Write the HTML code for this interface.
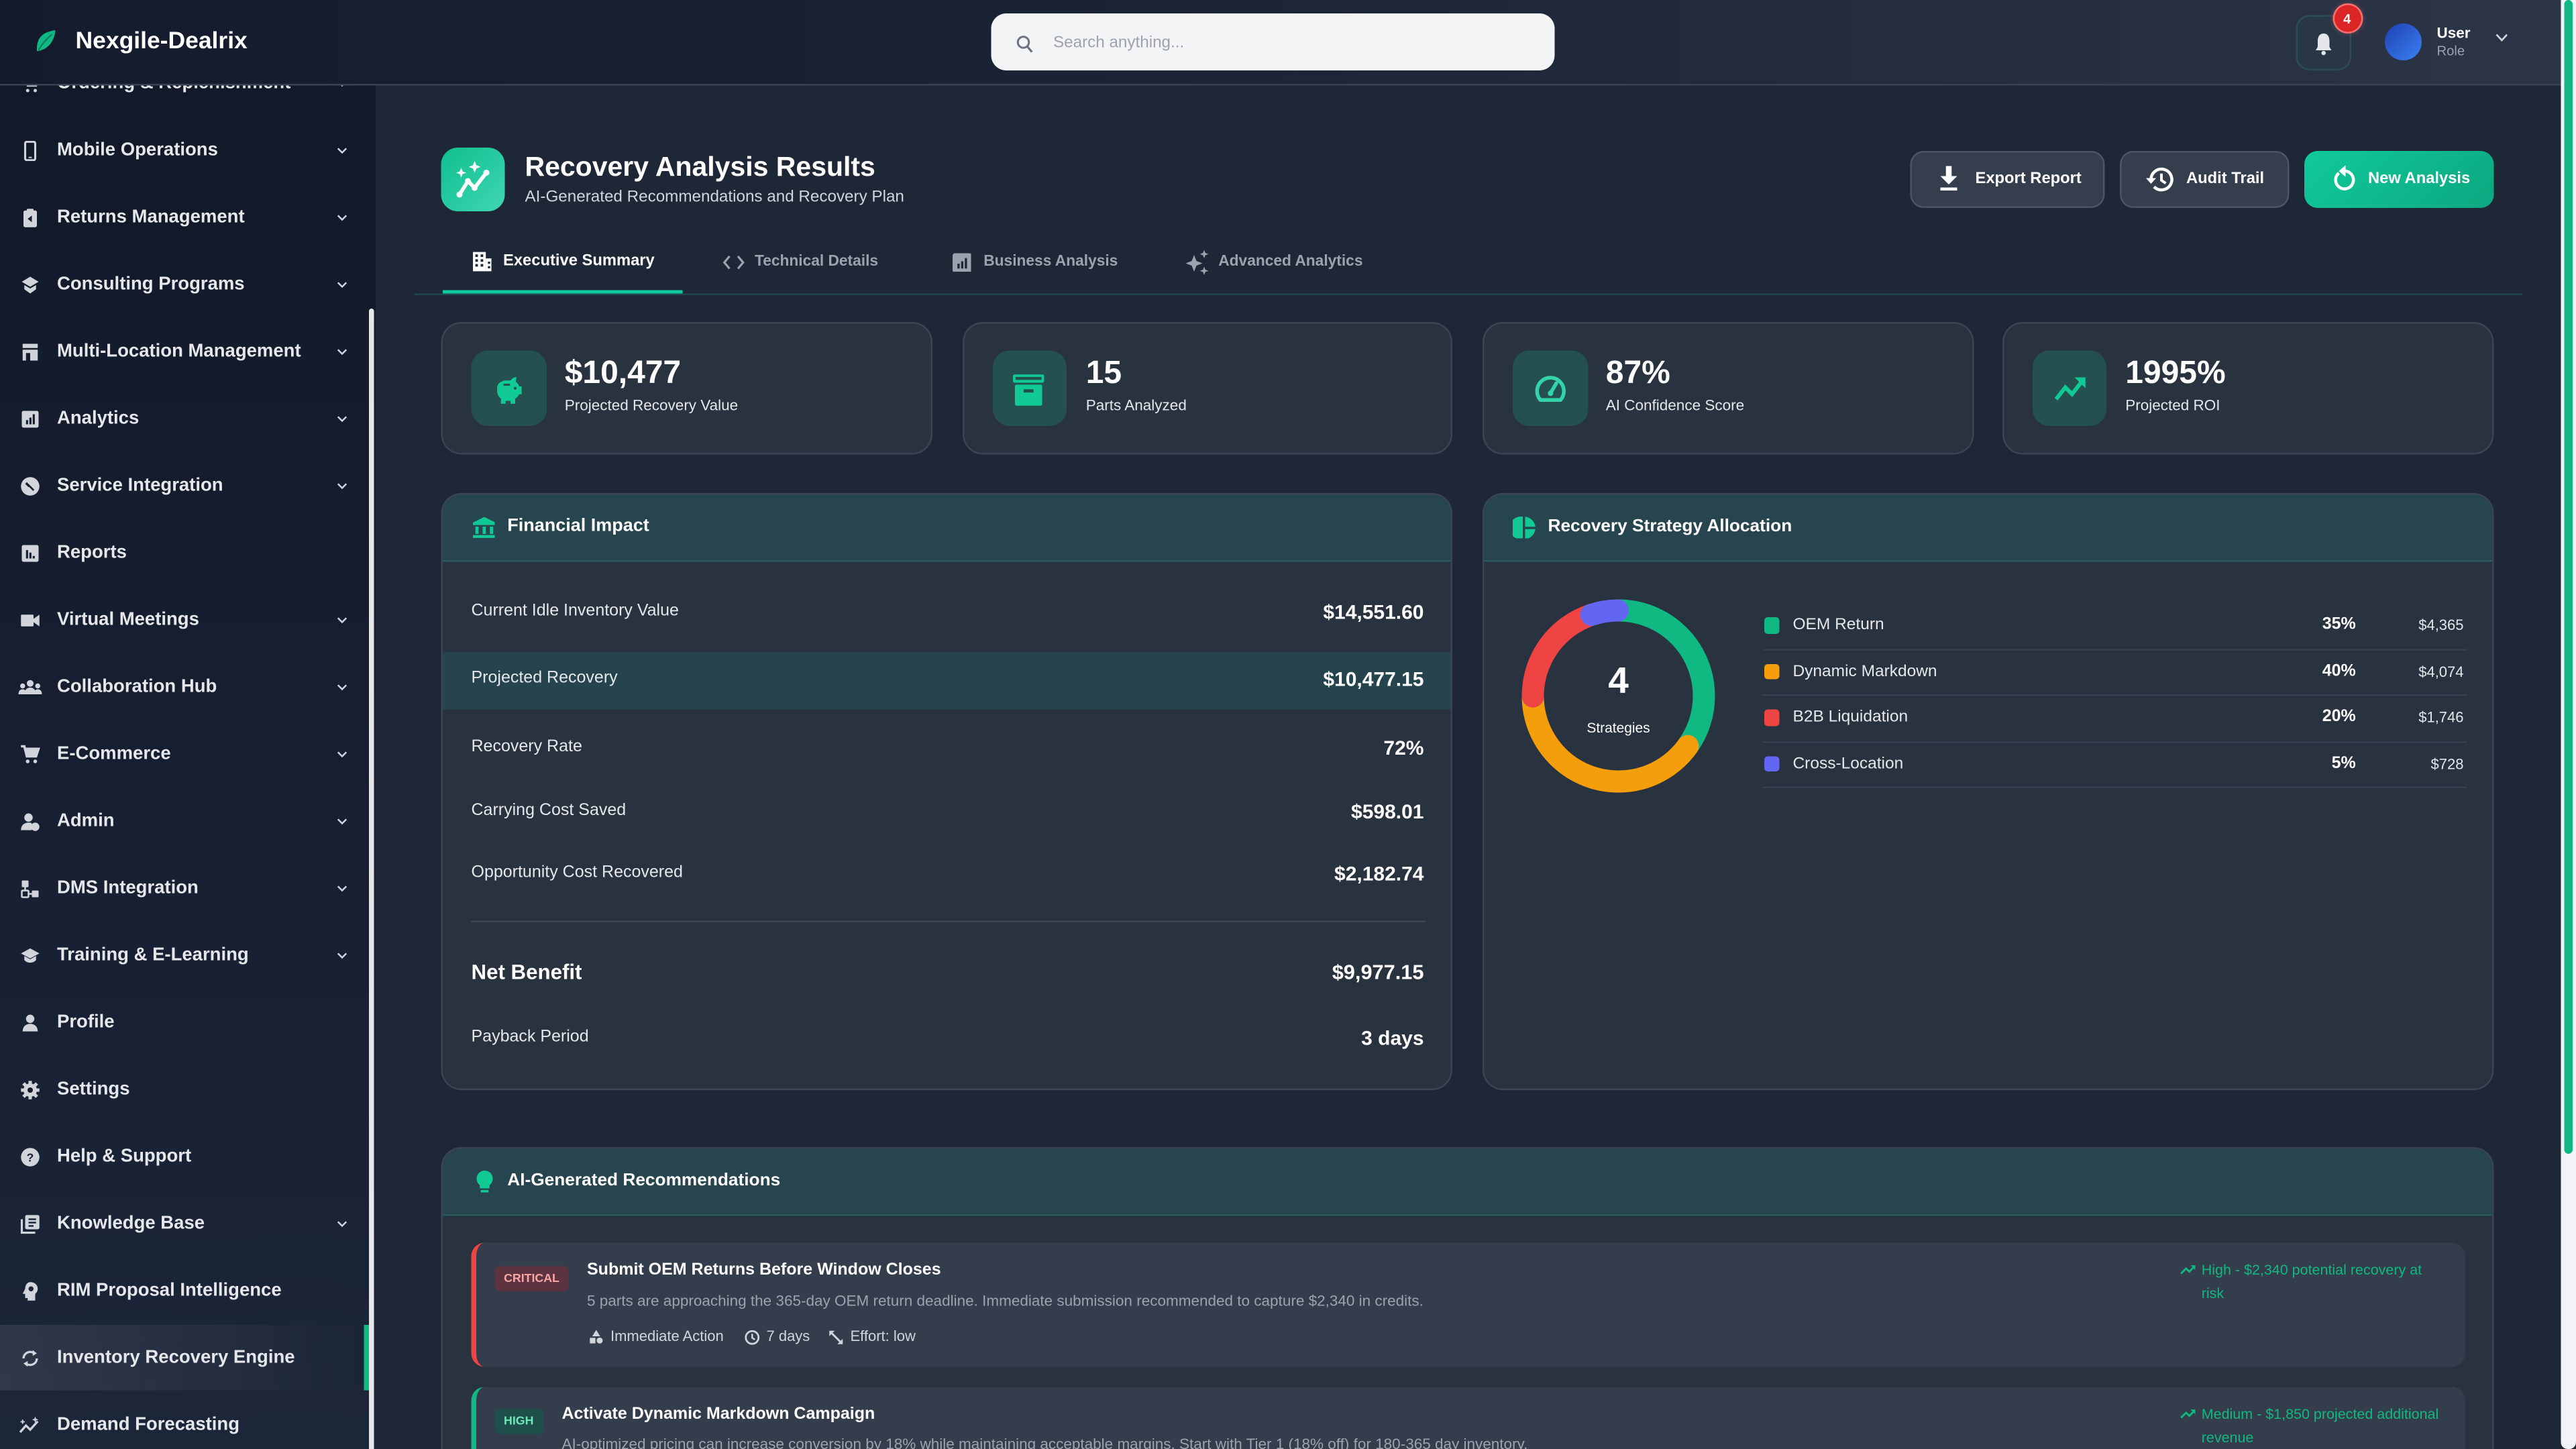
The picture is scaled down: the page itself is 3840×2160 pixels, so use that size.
<!DOCTYPE html>
<html><head><meta charset="utf-8">
<style>
html,body{margin:0;padding:0;width:3840px;height:2160px;overflow:hidden;background:#1e2736;}
#r{position:absolute;left:0;top:0;width:1536px;height:864px;transform:scale(2.5);transform-origin:0 0;font-family:"Liberation Sans",Arial,sans-serif;color:#fff;overflow:hidden;background:#1e2736;}
.a{position:absolute;}
.t{position:absolute;line-height:1;white-space:nowrap;transform:translateY(-50%);}
.sb{font-size:11px;font-weight:700;color:#e5e7eb;left:34px;}
.card{position:absolute;background:#29323f;border:1px solid #3a4453;border-radius:12px;box-sizing:border-box;overflow:hidden;}
.ch{position:absolute;left:0;top:0;right:0;height:39px;background:#26454e;border-bottom:1px solid #2b5a5a;}
.kicon{position:absolute;top:209px;width:44.5px;height:45px;border-radius:10px;background:#24504f;}
.kv{font-size:19.2px;font-weight:700;color:#fff;}
.kl{font-size:9px;color:#e5e7eb;}
.fl{font-size:10px;color:#e5e7eb;left:281px;}
.fv{font-size:12px;font-weight:700;color:#fff;right:687px;}
.lg{font-size:9.8px;color:#e5e7eb;left:1069px;}
.lp{font-size:10px;font-weight:700;color:#fff;right:131.3px;}
.la{font-size:8.8px;color:#e5e7eb;right:67px;}
.sq{position:absolute;left:1051.6px;width:9.5px;height:9.5px;border-radius:2px;}
.sep{position:absolute;left:1051px;width:419.5px;height:1px;background:#364050;}
.btn{position:absolute;top:89.7px;height:34.3px;border-radius:8px;box-sizing:border-box;}
.bt{font-size:9.5px;font-weight:700;color:#fff;top:107.4px;}
.tab{font-size:9.1px;font-weight:700;color:#9ca3af;top:156px;}
.meta{font-size:8.8px;color:#d1d5db;}
</style></head><body>
<div id="r">

<!-- sidebar -->
<div class="a" style="left:0;top:0;width:224px;height:864px;background:linear-gradient(180deg,#111827 0%,#151d2f 40%,#1c2639 100%);"></div>

<!-- active item -->
<div class="a" style="left:0;top:789.7px;width:217px;height:39.7px;background:linear-gradient(90deg,rgba(255,255,255,0.09),rgba(255,255,255,0.03) 70%,rgba(255,255,255,0));"></div>
<div class="a" style="left:217px;top:789.7px;width:3px;height:39.7px;background:#10b981;"></div>

<!-- sidebar scrollbar thumb -->
<div class="a" style="left:220px;top:183.6px;width:3.4px;height:680.4px;background:#e5e7eb;border-radius:2px 2px 0 0;"></div>

<!-- sidebar items -->
<svg class="a" style="left:12px;top:43.8px" width="12" height="12" viewBox="0 0 24 24"><path d="M2 3h4l3 11h10l3-8H7" fill="none" stroke="#d1d5db" stroke-width="2.5"/><circle cx="9" cy="20" r="2" fill="#d1d5db"/><circle cx="18" cy="20" r="2" fill="#d1d5db"/></svg>
<div class="t sb" style="top:49.8px">Ordering &amp; Replenishment</div>

<svg class="a" style="left:12px;top:83.8px" width="12" height="12" viewBox="0 0 24 24"><rect x="6" y="1" width="12" height="22" rx="2" fill="none" stroke="#d1d5db" stroke-width="2.5"/><rect x="10" y="19" width="4" height="1.5" fill="#d1d5db"/></svg>
<div class="t sb" style="top:89.8px">Mobile Operations</div>

<svg class="a" style="left:12px;top:123.8px" width="12" height="12" viewBox="0 0 24 24"><rect x="4" y="3" width="16" height="20" rx="2" fill="#d1d5db"/><rect x="8" y="1" width="8" height="4" rx="1" fill="#d1d5db"/><path d="M14 9l-5 4 5 4z" fill="#161e30"/></svg>
<div class="t sb" style="top:129.8px">Returns Management</div>

<svg class="a" style="left:12px;top:163.8px" width="12" height="12" viewBox="0 0 24 24"><path d="M12 2l10 6-10 6L2 8z" fill="#d1d5db"/><path d="M5 12v5l7 5 7-5v-5l-7 4z" fill="#d1d5db"/></svg>
<div class="t sb" style="top:169.8px">Consulting Programs</div>

<svg class="a" style="left:12px;top:203.8px" width="12" height="12" viewBox="0 0 24 24"><rect x="3" y="2" width="18" height="5" fill="#d1d5db"/><rect x="3" y="9" width="18" height="13" fill="#d1d5db"/><rect x="7" y="13" width="5" height="9" fill="#161e30"/></svg>
<div class="t sb" style="top:209.8px">Multi-Location Management</div>

<svg class="a" style="left:12px;top:243.8px" width="12" height="12" viewBox="0 0 24 24"><rect x="2" y="2" width="20" height="20" rx="2" fill="#d1d5db"/><rect x="7" y="13" width="2.5" height="5" fill="#161e30"/><rect x="11" y="10" width="2.5" height="8" fill="#161e30"/><rect x="15" y="6" width="2.5" height="12" fill="#161e30"/></svg>
<div class="t sb" style="top:249.8px">Analytics</div>

<svg class="a" style="left:12px;top:283.8px" width="12" height="12" viewBox="0 0 24 24"><circle cx="12" cy="12" r="11" fill="#d1d5db"/><path d="M8 7l4 4-2 2-4-4zM12 11l5 5-1.5 1.5-5-5z" fill="#161e30"/></svg>
<div class="t sb" style="top:289.8px">Service Integration</div>

<svg class="a" style="left:12px;top:323.8px" width="12" height="12" viewBox="0 0 24 24"><rect x="2" y="2" width="20" height="20" rx="2" fill="#d1d5db"/><rect x="7" y="8" width="2.5" height="10" fill="#161e30"/><rect x="11" y="11" width="2.5" height="7" fill="#161e30"/><rect x="15" y="15" width="2.5" height="3" fill="#161e30"/></svg>
<div class="t sb" style="top:329.8px">Reports</div>

<svg class="a" style="left:12px;top:363.8px" width="12" height="12" viewBox="0 0 24 24"><rect x="1" y="5" width="15" height="14" rx="1" fill="#d1d5db"/><path d="M16 10l7-5v14l-7-5z" fill="#d1d5db"/></svg>
<div class="t sb" style="top:369.8px">Virtual Meetings</div>

<svg class="a" style="left:11px;top:403.8px" width="14" height="12" viewBox="0 0 28 24"><circle cx="14" cy="7" r="4" fill="#d1d5db"/><circle cx="5" cy="10" r="3" fill="#d1d5db"/><circle cx="23" cy="10" r="3" fill="#d1d5db"/><path d="M7 20c0-5 3-8 7-8s7 3 7 8z" fill="#d1d5db"/><path d="M0 20c0-4 2-6 5-6s4 2 4 6zM19 20c0-4 1-6 4-6s5 2 5 6z" fill="#d1d5db"/></svg>
<div class="t sb" style="top:409.8px">Collaboration Hub</div>

<svg class="a" style="left:12px;top:443.8px" width="12" height="12" viewBox="0 0 24 24"><path d="M1 2h4l3 12h11l3-9H7" fill="none" stroke="#d1d5db" stroke-width="2.8"/><path d="M7 5h15l-3 9H9z" fill="#d1d5db"/><circle cx="9" cy="20" r="2.2" fill="#d1d5db"/><circle cx="18" cy="20" r="2.2" fill="#d1d5db"/></svg>
<div class="t sb" style="top:449.8px">E-Commerce</div>

<svg class="a" style="left:12px;top:483.8px" width="12" height="12" viewBox="0 0 24 24"><circle cx="10" cy="7" r="5" fill="#d1d5db"/><path d="M1 22c0-6 4-9 9-9 2 0 3 0 4 1v8z" fill="#d1d5db"/><circle cx="18" cy="18" r="5" fill="#d1d5db"/></svg>
<div class="t sb" style="top:489.8px">Admin</div>

<svg class="a" style="left:12px;top:523.8px" width="12" height="12" viewBox="0 0 24 24"><rect x="2" y="2" width="8" height="8" rx="1" fill="#d1d5db"/><rect x="14" y="14" width="8" height="8" rx="1" fill="#d1d5db"/><rect x="2" y="14" width="8" height="8" rx="1" fill="none" stroke="#d1d5db" stroke-width="2"/><path d="M6 10v4M10 18h4" stroke="#d1d5db" stroke-width="2"/></svg>
<div class="t sb" style="top:529.8px">DMS Integration</div>

<svg class="a" style="left:12px;top:563.8px" width="12" height="12" viewBox="0 0 24 24"><path d="M12 3l11 6-11 6L1 9z" fill="#d1d5db"/><path d="M5 12v5c2 2 4 3 7 3s5-1 7-3v-5l-7 4z" fill="#d1d5db"/></svg>
<div class="t sb" style="top:569.8px">Training &amp; E-Learning</div>

<svg class="a" style="left:12px;top:603.8px" width="12" height="12" viewBox="0 0 24 24"><circle cx="12" cy="7" r="5" fill="#d1d5db"/><path d="M3 22c0-6 4-9 9-9s9 3 9 9z" fill="#d1d5db"/></svg>
<div class="t sb" style="top:609.8px">Profile</div>

<svg class="a" style="left:12px;top:643.8px" width="12" height="12" viewBox="0 0 24 24"><circle cx="12" cy="12" r="8" fill="#d1d5db"/><g stroke="#d1d5db" stroke-width="4"><path d="M12 1v22M1 12h22M4 4l16 16M20 4L4 20"/></g><circle cx="12" cy="12" r="3.2" fill="#161e30"/></svg>
<div class="t sb" style="top:649.8px">Settings</div>

<svg class="a" style="left:12px;top:683.8px" width="12" height="12" viewBox="0 0 24 24"><circle cx="12" cy="12" r="11" fill="#d1d5db"/><text x="12" y="17" text-anchor="middle" font-size="14" font-weight="700" fill="#161e30" font-family="Liberation Sans">?</text></svg>
<div class="t sb" style="top:689.8px">Help &amp; Support</div>

<svg class="a" style="left:12px;top:723.8px" width="12" height="12" viewBox="0 0 24 24"><rect x="6" y="1" width="17" height="17" rx="2" fill="#d1d5db"/><path d="M2 6v16h16" fill="none" stroke="#d1d5db" stroke-width="2.5"/><path d="M10 6h9M10 10h9M10 14h6" stroke="#1c2639" stroke-width="2"/></svg>
<div class="t sb" style="top:729.8px">Knowledge Base</div>

<svg class="a" style="left:12px;top:763.8px" width="12" height="12" viewBox="0 0 24 24"><path d="M12 1c5 0 9 3 9 8 0 3-2 5-3 6v8h-9v-3H6v-5H3l3-6c0-5 3-8 6-8z" fill="#d1d5db"/><circle cx="13" cy="9" r="3" fill="#1c2639"/></svg>
<div class="t sb" style="top:769.8px">RIM Proposal Intelligence</div>

<svg class="a" style="left:12px;top:803.8px" width="12" height="12" viewBox="0 0 24 24"><path d="M4 12a8 8 0 0 1 13-6" fill="none" stroke="#d1d5db" stroke-width="2.6"/><path d="M20 12a8 8 0 0 1-13 6" fill="none" stroke="#d1d5db" stroke-width="2.6"/><path d="M15 2l5 4-5 3z" fill="#d1d5db"/><path d="M9 22l-5-4 5-3z" fill="#d1d5db"/></svg>
<div class="t sb" style="top:809.8px">Inventory Recovery Engine</div>

<svg class="a" style="left:11px;top:843.8px" width="14" height="12" viewBox="0 0 28 24"><path d="M2 20l7-8 5 5 9-10" fill="none" stroke="#d1d5db" stroke-width="2.6"/><path d="M20 1l1 3 3 1-3 1-1 3-1-3-3-1 3-1z" fill="#d1d5db"/><path d="M5 5v5M2.5 7.5h5" stroke="#d1d5db" stroke-width="1.5"/></svg>
<div class="t sb" style="top:849.8px">Demand Forecasting</div>

<!-- chevrons -->
<svg class="a" style="left:200.5px;top:47.8px" width="6" height="4" viewBox="0 0 6 4"><path d="M.5.5L3 3 5.5.5" fill="none" stroke="#cbd5e1" stroke-width="1"/></svg>
<svg class="a" style="left:200.5px;top:87.8px" width="6" height="4" viewBox="0 0 6 4"><path d="M.5.5L3 3 5.5.5" fill="none" stroke="#cbd5e1" stroke-width="1"/></svg>
<svg class="a" style="left:200.5px;top:127.8px" width="6" height="4" viewBox="0 0 6 4"><path d="M.5.5L3 3 5.5.5" fill="none" stroke="#cbd5e1" stroke-width="1"/></svg>
<svg class="a" style="left:200.5px;top:167.8px" width="6" height="4" viewBox="0 0 6 4"><path d="M.5.5L3 3 5.5.5" fill="none" stroke="#cbd5e1" stroke-width="1"/></svg>
<svg class="a" style="left:200.5px;top:207.8px" width="6" height="4" viewBox="0 0 6 4"><path d="M.5.5L3 3 5.5.5" fill="none" stroke="#cbd5e1" stroke-width="1"/></svg>
<svg class="a" style="left:200.5px;top:247.8px" width="6" height="4" viewBox="0 0 6 4"><path d="M.5.5L3 3 5.5.5" fill="none" stroke="#cbd5e1" stroke-width="1"/></svg>
<svg class="a" style="left:200.5px;top:287.8px" width="6" height="4" viewBox="0 0 6 4"><path d="M.5.5L3 3 5.5.5" fill="none" stroke="#cbd5e1" stroke-width="1"/></svg>
<svg class="a" style="left:200.5px;top:367.8px" width="6" height="4" viewBox="0 0 6 4"><path d="M.5.5L3 3 5.5.5" fill="none" stroke="#cbd5e1" stroke-width="1"/></svg>
<svg class="a" style="left:200.5px;top:407.8px" width="6" height="4" viewBox="0 0 6 4"><path d="M.5.5L3 3 5.5.5" fill="none" stroke="#cbd5e1" stroke-width="1"/></svg>
<svg class="a" style="left:200.5px;top:447.8px" width="6" height="4" viewBox="0 0 6 4"><path d="M.5.5L3 3 5.5.5" fill="none" stroke="#cbd5e1" stroke-width="1"/></svg>
<svg class="a" style="left:200.5px;top:487.8px" width="6" height="4" viewBox="0 0 6 4"><path d="M.5.5L3 3 5.5.5" fill="none" stroke="#cbd5e1" stroke-width="1"/></svg>
<svg class="a" style="left:200.5px;top:527.8px" width="6" height="4" viewBox="0 0 6 4"><path d="M.5.5L3 3 5.5.5" fill="none" stroke="#cbd5e1" stroke-width="1"/></svg>
<svg class="a" style="left:200.5px;top:567.8px" width="6" height="4" viewBox="0 0 6 4"><path d="M.5.5L3 3 5.5.5" fill="none" stroke="#cbd5e1" stroke-width="1"/></svg>
<svg class="a" style="left:200.5px;top:727.8px" width="6" height="4" viewBox="0 0 6 4"><path d="M.5.5L3 3 5.5.5" fill="none" stroke="#cbd5e1" stroke-width="1"/></svg>

<!-- header -->
<div class="a" style="left:0;top:0;width:1527px;height:50.5px;background:linear-gradient(90deg,#141b2d 0%,#1b2336 45%,#2c3548 100%);border-bottom:1px solid #394252;box-sizing:border-box;"></div>
<svg class="a" style="left:19.6px;top:18px" width="14" height="13" viewBox="0 0 14 13"><path d="M13 0C6 1 1.5 4 2 12.5 8 12 12.5 7 13 0z" fill="#10b981"/><path d="M3 12C5 8 8 5 11 2.5" stroke="#0b7a57" stroke-width=".8" fill="none"/></svg>
<div class="t" style="left:45px;top:25.4px;font-size:14.2px;font-weight:700;color:#fff">Nexgile-Dealrix</div>

<div class="a" style="left:591px;top:8.3px;width:335.5px;height:34px;border-radius:9px;background:#f3f4f6;"></div>
<svg class="a" style="left:606px;top:20.5px" width="10" height="11" viewBox="0 0 10 11"><circle cx="4.2" cy="4.2" r="3.3" fill="none" stroke="#6b7280" stroke-width="1.2"/><path d="M6.6 6.8L9.3 10" stroke="#6b7280" stroke-width="1.3"/></svg>
<div class="t" style="left:628px;top:25.7px;font-size:9.7px;color:#9ca3af">Search anything...</div>

<div class="a" style="left:1369px;top:8.8px;width:32.6px;height:33px;border-radius:8px;background:#283646;border:1px solid #2c4b52;box-sizing:border-box;"></div>
<svg class="a" style="left:1380px;top:19px" width="11" height="14" viewBox="0 0 11 14"><path d="M5.5 1C3 1 2 3 2 5.5V9L.8 11h9.4L9 9V5.5C9 3 8 1 5.5 1z" fill="#e5e7eb"/><circle cx="5.5" cy="12.6" r="1.3" fill="#e5e7eb"/></svg>
<div class="a" style="left:1391.5px;top:3.3px;width:16px;height:16px;border-radius:50%;background:#dc2626;box-shadow:0 0 0 1px #f87171,0 0 4px rgba(248,113,113,.6);"></div>
<div class="t" style="left:1391.5px;width:16px;text-align:center;top:11.5px;font-size:8px;font-weight:700;color:#fff">4</div>

<div class="a" style="left:1422px;top:14px;width:22.4px;height:22.4px;border-radius:50%;background:linear-gradient(135deg,#1e40af,#3b82f6);"></div>
<div class="t" style="left:1453px;top:20.2px;font-size:9px;font-weight:700;color:#fff">User</div>
<div class="t" style="left:1453px;top:31.2px;font-size:8.1px;color:#9ca3af">Role</div>
<svg class="a" style="left:1487.6px;top:20.2px" width="7.5" height="5" viewBox="0 0 7.5 5"><path d="M.6.6L3.75 4 6.9.6" fill="none" stroke="#d1d5db" stroke-width="1.1"/></svg>

<!-- page scrollbar -->
<div class="a" style="left:1526.5px;top:0;width:9.5px;height:864px;background:#f1f3f6;border-radius:0 0 4px 4px;"></div>
<div class="a" style="left:1528.8px;top:0;width:5.6px;height:688px;background:#10b981;border-radius:3px;"></div>

<!-- title area -->
<div class="a" style="left:263px;top:88px;width:38px;height:38px;border-radius:10px;background:linear-gradient(135deg,#0fbf8f,#3fd6b2);"></div>
<svg class="a" style="left:263px;top:88px" width="38" height="38" viewBox="0 0 38 38"><path d="M11 28l5-8 4 4 7-9" fill="none" stroke="#fff" stroke-width="2.2" stroke-linecap="round" stroke-linejoin="round"/><circle cx="11" cy="28" r="1.8" fill="#fff"/><circle cx="16" cy="20" r="1.8" fill="#fff"/><circle cx="20" cy="24" r="1.8" fill="#fff"/><circle cx="27" cy="15" r="1.8" fill="#fff"/><path d="M12 12l.8 2.2 2.2.8-2.2.8-.8 2.2-.8-2.2-2.2-.8 2.2-.8z" fill="#fff"/><path d="M20 8l1 2.5 2.5 1-2.5 1-1 2.5-1-2.5-2.5-1 2.5-1z" fill="#fff"/></svg>
<div class="t" style="left:313px;top:99.5px;font-size:16.4px;font-weight:700;color:#fff">Recovery Analysis Results</div>
<div class="t" style="left:313px;top:118px;font-size:9.7px;color:#d1d5db">AI-Generated Recommendations and Recovery Plan</div>

<!-- buttons -->
<div class="btn" style="left:1139px;width:116px;background:#343e4c;border:1px solid #4b5563;"></div>
<svg class="a" style="left:1156px;top:99px" width="12" height="15" viewBox="0 0 12 15"><path d="M4.3 0h3.4v6h3.3L6 11 1 6h3.3z" fill="#fff"/><rect x="1" y="12.8" width="10" height="1.8" fill="#fff"/></svg>
<div class="t bt" style="left:1177.8px">Export Report</div>

<div class="btn" style="left:1264px;width:100.5px;background:#343e4c;border:1px solid #4b5563;"></div>
<svg class="a" style="left:1279px;top:98.8px" width="17" height="16" viewBox="0 0 17 16"><path d="M3.6 8a6.2 6.2 0 1 1 1.8 4.4" fill="none" stroke="#fff" stroke-width="1.8"/><path d="M.6 7.2h6L3.6 10.6z" fill="#fff"/><path d="M9.8 4.5v4l2.6 1.8" fill="none" stroke="#fff" stroke-width="1.6"/></svg>
<div class="t bt" style="left:1303.6px">Audit Trail</div>

<div class="btn" style="left:1373.7px;width:113.3px;background:linear-gradient(135deg,#10c99a,#0ca880);"></div>
<svg class="a" style="left:1390.5px;top:98px" width="14" height="16" viewBox="0 0 14 16"><path d="M3.6 5.2A5.3 5.3 0 1 0 7 4" fill="none" stroke="#fff" stroke-width="1.8"/><path d="M7.6 0.5v7L3.6 4z" fill="#fff"/></svg>
<div class="t bt" style="left:1412px">New Analysis</div>

<!-- tabs -->
<div class="a" style="left:246.5px;top:175px;width:1257.5px;height:1px;background:#1f4649;"></div>
<div class="a" style="left:263.5px;top:172.8px;width:143.5px;height:2px;background:#10c9a0;"></div>
<svg class="a" style="left:281.5px;top:150.3px" width="11.5" height="12" viewBox="0 0 12 12"><rect x="0" y="0" width="8" height="12" fill="#fff"/><rect x="8" y="4" width="4" height="8" fill="#fff"/><g fill="#1e2736"><rect x="1.5" y="1.5" width="1.6" height="1.6"/><rect x="4.8" y="1.5" width="1.6" height="1.6"/><rect x="1.5" y="4.5" width="1.6" height="1.6"/><rect x="4.8" y="4.5" width="1.6" height="1.6"/><rect x="1.5" y="7.5" width="1.6" height="1.6"/><rect x="4.8" y="7.5" width="1.6" height="1.6"/><rect x="9.3" y="6" width="1.4" height="1.4"/><rect x="9.3" y="8.8" width="1.4" height="1.4"/></g></svg>
<div class="t" style="left:300px;top:156px;font-size:9.5px;font-weight:700;color:#fff">Executive Summary</div>

<svg class="a" style="left:431px;top:151.5px" width="13" height="9" viewBox="0 0 13 9"><path d="M4 .8L.9 4.5 4 8.2M9 .8l3.1 3.7L9 8.2" fill="none" stroke="#9ca3af" stroke-width="1.3"/></svg>
<div class="t tab" style="left:450px">Technical Details</div>

<svg class="a" style="left:567.6px;top:150.5px" width="11.5" height="11.5" viewBox="0 0 12 12"><rect width="12" height="12" rx="1.5" fill="#9ca3af"/><rect x="3" y="6.5" width="1.4" height="3" fill="#1e2736"/><rect x="5.3" y="5" width="1.4" height="4.5" fill="#1e2736"/><rect x="7.6" y="3" width="1.4" height="6.5" fill="#1e2736"/></svg>
<div class="t tab" style="left:586.5px">Business Analysis</div>

<svg class="a" style="left:707px;top:149px" width="14" height="15" viewBox="0 0 14 15"><path d="M5 3l1.4 3.6L10 8 6.4 9.4 5 13 3.6 9.4 0 8l3.6-1.4z" fill="#9ca3af"/><path d="M11 0l.7 1.8 1.8.7-1.8.7-.7 1.8-.7-1.8-1.8-.7 1.8-.7z" fill="#9ca3af"/><path d="M11 10l.7 1.8 1.8.7-1.8.7-.7 1.8-.7-1.8-1.8-.7 1.8-.7z" fill="#9ca3af"/></svg>
<div class="t tab" style="left:726.5px">Advanced Analytics</div>

<!-- KPI cards -->
<div class="card" style="left:263.2px;top:192.3px;width:293.2px;height:78.7px;"></div>
<div class="card" style="left:573.7px;top:192.3px;width:292.7px;height:78.7px;"></div>
<div class="card" style="left:884px;top:192.3px;width:292.5px;height:78.7px;"></div>
<div class="card" style="left:1193.8px;top:192.3px;width:293.2px;height:78.7px;"></div>

<div class="kicon" style="left:281px;"></div>
<svg class="a" style="left:293.7px;top:222.5px" width="18.7" height="18.5" viewBox="0 0 24 24"><path d="M3 11c0-3.5 3-6 7.5-6h3c1-1.6 2.6-2.6 4.5-2.6l-.6 3.6c1.3.9 2.3 2.2 2.7 3.6H22v6h-2c-.6 1.6-1.8 2.8-3 3.4V23h-3.6v-2.2H9.6V23H6v-4C4 17.6 3 15.4 3 13z" fill="#10c995"/><rect x="8" y="7.5" width="5" height="1.6" fill="#24504f"/><circle cx="17" cy="11" r="1.1" fill="#24504f"/></svg>
<div class="t kv" style="left:336.7px;top:222.8px">$10,477</div>
<div class="t kl" style="left:336.7px;top:242.4px">Projected Recovery Value</div>

<div class="kicon" style="left:591.5px;"></div>
<svg class="a" style="left:604.4px;top:222.6px" width="18.6" height="19.2" viewBox="0 0 19 19"><rect x="0" y="0" width="19" height="5" rx="1" fill="#10c995"/><rect x="1.2" y="6.2" width="16.6" height="12.8" rx="1" fill="#10c995"/><rect x="6.5" y="9" width="6" height="2" fill="#24504f"/><rect x="1.6" y="1.5" width="15.8" height="1.8" fill="#24504f"/></svg>
<div class="t kv" style="left:647.5px;top:222.8px">15</div>
<div class="t kl" style="left:647.5px;top:242.4px">Parts Analyzed</div>

<div class="kicon" style="left:902px;"></div>
<svg class="a" style="left:915px;top:223px" width="19" height="17" viewBox="0 0 19 17"><path d="M3.5 15.5A8 8 0 1 1 15.5 15.5z" fill="none" stroke="#34d3aa" stroke-width="2.2" stroke-linejoin="round"/><path d="M9.5 11.5l3.5-6" stroke="#34d3aa" stroke-width="2.2" stroke-linecap="round"/><circle cx="9.5" cy="11.5" r="1.6" fill="#34d3aa"/></svg>
<div class="t kv" style="left:957.5px;top:222.8px">87%</div>
<div class="t kl" style="left:957.5px;top:242.4px">AI Confidence Score</div>

<div class="kicon" style="left:1211.8px;"></div>
<svg class="a" style="left:1224.5px;top:223px" width="19" height="17" viewBox="0 0 19 17"><path d="M1 15l5.5-7 4 4L17.5 3" fill="none" stroke="#10c995" stroke-width="2.4"/><path d="M12 2h6.5v6.5z" fill="#10c995"/></svg>
<div class="t kv" style="left:1267.3px;top:222.8px">1995%</div>
<div class="t kl" style="left:1267.3px;top:242.4px">Projected ROI</div>

<!-- Financial Impact card -->
<div class="card" style="left:263.3px;top:294px;width:603.1px;height:356px;">
  <div class="ch"></div>
  <div class="a" style="left:0;top:94px;width:603.1px;height:34.3px;background:#26444e;"></div>
</div>
<svg class="a" style="left:281.6px;top:307.5px" width="13.5" height="13" viewBox="0 0 14 13"><path d="M7 0L14 3.5V5H0V3.5z" fill="#10c995"/><rect x="1.5" y="6" width="2" height="4.5" fill="#10c995"/><rect x="6" y="6" width="2" height="4.5" fill="#10c995"/><rect x="10.5" y="6" width="2" height="4.5" fill="#10c995"/><rect x="0" y="11.2" width="14" height="1.8" fill="#10c995"/></svg>
<div class="t" style="left:302.5px;top:314px;font-size:10.8px;font-weight:700;color:#fff">Financial Impact</div>

<div class="t fl" style="top:365px">Current Idle Inventory Value</div>
<div class="t fv" style="top:365px">$14,551.60</div>
<div class="t fl" style="top:405px">Projected Recovery</div>
<div class="t fv" style="top:405px">$10,477.15</div>
<div class="t fl" style="top:446px">Recovery Rate</div>
<div class="t fv" style="top:446px">72%</div>
<div class="t fl" style="top:484px">Carrying Cost Saved</div>
<div class="t fv" style="top:484px">$598.01</div>
<div class="t fl" style="top:521px">Opportunity Cost Recovered</div>
<div class="t fv" style="top:521px">$2,182.74</div>
<div class="a" style="left:281px;top:549px;width:568.5px;height:1px;background:#3b4554;"></div>
<div class="t" style="left:281px;top:580px;font-size:12.5px;font-weight:700;color:#fff">Net Benefit</div>
<div class="t" style="right:687px;top:580px;font-size:12.3px;font-weight:700;color:#fff">$9,977.15</div>
<div class="t fl" style="top:619px">Payback Period</div>
<div class="t fv" style="top:619px">3 days</div>

<!-- Strategy card -->
<div class="card" style="left:884px;top:294px;width:603px;height:356px;">
  <div class="ch"></div>
</div>
<svg class="a" style="left:902px;top:307.5px" width="13.6" height="13.6" viewBox="0 0 14 14"><path d="M6.2 0.1A7 7 0 1 0 6.2 13.9z" fill="#10c995"/><path d="M7.6 0.1A7 7 0 0 1 13.9 6.3H7.6z" fill="#10c995"/><path d="M7.6 7.7h6.3A7 7 0 0 1 7.6 13.9z" fill="#10c995"/></svg>
<div class="t" style="left:923px;top:314px;font-size:10.5px;font-weight:700;color:#fff">Recovery Strategy Allocation</div>

<svg class="a" style="left:905px;top:355px" width="120" height="120" viewBox="0 0 120 120">
  <g transform="rotate(-90 60 60)" fill="none" stroke-width="13.2" stroke-linecap="round">
    <circle cx="60" cy="60" r="51" pathLength="100" stroke="#10b981" stroke-dasharray="35 65" stroke-dashoffset="0"/>
    <circle cx="60" cy="60" r="51" pathLength="100" stroke="#f59e0b" stroke-dasharray="40 60" stroke-dashoffset="-35"/>
    <circle cx="60" cy="60" r="51" pathLength="100" stroke="#ef4444" stroke-dasharray="20 80" stroke-dashoffset="-75"/>
    <circle cx="60" cy="60" r="51" pathLength="100" stroke="#6366f1" stroke-dasharray="5 95" stroke-dashoffset="-95"/>
  </g>
</svg>
<div class="t" style="left:925px;width:80px;text-align:center;top:406px;font-size:22px;font-weight:700;color:#fff">4</div>
<div class="t" style="left:925px;width:80px;text-align:center;top:433.5px;font-size:8.4px;color:#fff">Strategies</div>

<div class="sq" style="top:368.3px;background:#10b981"></div>
<div class="t lg" style="top:373px">OEM Return</div>
<div class="t lp" style="top:373px">35%</div>
<div class="t la" style="top:373px">$4,365</div>
<div class="sep" style="top:386.5px"></div>
<div class="sq" style="top:395.8px;background:#f59e0b"></div>
<div class="t lg" style="top:400.5px">Dynamic Markdown</div>
<div class="t lp" style="top:400.5px">40%</div>
<div class="t la" style="top:400.5px">$4,074</div>
<div class="sep" style="top:414px"></div>
<div class="sq" style="top:423.3px;background:#ef4444"></div>
<div class="t lg" style="top:428px">B2B Liquidation</div>
<div class="t lp" style="top:428px">20%</div>
<div class="t la" style="top:428px">$1,746</div>
<div class="sep" style="top:441.6px"></div>
<div class="sq" style="top:450.9px;background:#6366f1"></div>
<div class="t lg" style="top:455.6px">Cross-Location</div>
<div class="t lp" style="top:455.6px">5%</div>
<div class="t la" style="top:455.6px">$728</div>
<div class="sep" style="top:469px"></div>

<!-- AI Recommendations -->
<div class="card" style="left:263.3px;top:684px;width:1223.7px;height:180px;border-bottom:none;border-radius:12px 12px 0 0;">
  <div class="ch"></div>
</div>
<svg class="a" style="left:284px;top:697.5px" width="10" height="13.5" viewBox="0 0 10 14"><path d="M5 0a5 5 0 0 0-3 9v2h6V9a5 5 0 0 0-3-9z" fill="#10c995"/><rect x="2.5" y="12" width="5" height="1.6" rx=".8" fill="#10c995"/></svg>
<div class="t" style="left:302.5px;top:704px;font-size:10.5px;font-weight:700;color:#fff">AI-Generated Recommendations</div>

<!-- item 1 -->
<div class="a" style="left:281px;top:740.7px;width:1189px;height:74.5px;background:#343d4b;border-radius:8px;border-left:3px solid #ef4444;box-sizing:border-box;"></div>
<div class="a" style="left:295px;top:755px;width:44px;height:14.5px;border-radius:3px;background:#5b3440;"></div>
<div class="t" style="left:295px;width:44px;text-align:center;top:762.5px;font-size:7.1px;font-weight:700;color:#fca5a5">CRITICAL</div>
<div class="t" style="left:350px;top:757.6px;font-size:10px;font-weight:700;color:#fff">Submit OEM Returns Before Window Closes</div>
<div class="t" style="left:350px;top:775.8px;font-size:9px;color:#9ca3af">5 parts are approaching the 365-day OEM return deadline. Immediate submission recommended to capture $2,340 in credits.</div>
<svg class="a" style="left:351px;top:793px" width="9" height="8.5" viewBox="0 0 9 9"><path d="M4.5 0L7 4H2z" fill="#d1d5db"/><rect x="0.5" y="5" width="3.5" height="3.5" fill="#d1d5db"/><circle cx="6.7" cy="6.7" r="1.9" fill="#d1d5db"/></svg>
<div class="t meta" style="left:364px;top:797px">Immediate Action</div>
<svg class="a" style="left:444px;top:792.5px" width="9" height="9" viewBox="0 0 9 9"><circle cx="4.5" cy="4.5" r="3.8" fill="none" stroke="#d1d5db" stroke-width="1.1"/><path d="M4.5 2.3v2.4l1.6 1.1" fill="none" stroke="#d1d5db" stroke-width="1"/></svg>
<div class="t meta" style="left:457px;top:797px">7 days</div>
<svg class="a" style="left:493.6px;top:792.5px" width="9" height="9" viewBox="0 0 9 9"><path d="M1 1l7 7" stroke="#d1d5db" stroke-width="1.2"/><path d="M0.5 0.5h3.2L0.5 3.7zM8.5 8.5H5.3L8.5 5.3z" fill="#d1d5db"/></svg>
<div class="t meta" style="left:507px;top:797px">Effort: low</div>
<svg class="a" style="left:1299.6px;top:754px" width="9.5" height="6" viewBox="0 0 10 6"><path d="M.5 5.5l3.2-3.2 2 2L9 1" fill="none" stroke="#10b981" stroke-width="1.2"/><path d="M6.5.3h3.2v3.2z" fill="#10b981"/></svg>
<div class="a" style="left:1312.7px;top:751.3px;width:144px;font-size:8.6px;line-height:13.4px;color:#10b981;">High - $2,340 potential recovery at risk</div>

<!-- item 2 -->
<div class="a" style="left:281px;top:826.5px;width:1189px;height:37.5px;background:#343d4b;border-radius:8px 8px 0 0;border-left:3px solid #10b981;box-sizing:border-box;"></div>
<div class="a" style="left:295px;top:840.3px;width:28.6px;height:14.5px;border-radius:3px;background:#1f4f4a;"></div>
<div class="t" style="left:295px;width:28.6px;text-align:center;top:847.8px;font-size:7.1px;font-weight:700;color:#6ee7b7">HIGH</div>
<div class="t" style="left:335px;top:843.6px;font-size:10px;font-weight:700;color:#fff">Activate Dynamic Markdown Campaign</div>
<div class="a" style="left:335px;top:857px;width:900px;height:7px;overflow:hidden;font-size:9px;line-height:9px;white-space:nowrap;color:#9ca3af">AI-optimized pricing can increase conversion by 18% while maintaining acceptable margins. Start with Tier 1 (18% off) for 180-365 day inventory.</div>
<svg class="a" style="left:1299.6px;top:840px" width="9.5" height="6" viewBox="0 0 10 6"><path d="M.5 5.5l3.2-3.2 2 2L9 1" fill="none" stroke="#10b981" stroke-width="1.2"/><path d="M6.5.3h3.2v3.2z" fill="#10b981"/></svg>
<div class="a" style="left:1312.7px;top:837.3px;width:144px;height:26.7px;overflow:hidden;font-size:8.6px;line-height:13.4px;color:#10b981;">Medium - $1,850 projected additional revenue</div>

</div>
</body></html>
